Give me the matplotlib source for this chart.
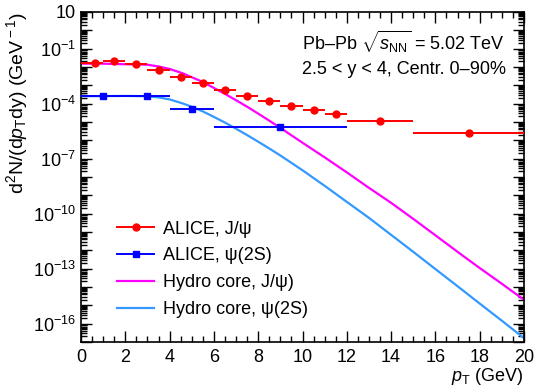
import numpy as np
import matplotlib
matplotlib.use("Agg")
import matplotlib.pyplot as plt
from matplotlib.lines import Line2D
from matplotlib.ticker import LogLocator, FixedLocator, MultipleLocator, NullFormatter

plt.rcParams['font.family'] = ['Liberation Sans', 'DejaVu Sans']
plt.rcParams['mathtext.fontset'] = 'custom'
plt.rcParams['mathtext.rm'] = 'Liberation Sans'
plt.rcParams['mathtext.it'] = 'Liberation Sans:italic'
plt.rcParams['mathtext.bf'] = 'Liberation Sans:bold'

# ALICE J/psi (red points), x-bins
jpsi_pt = [0.65, 1.5, 2.5, 3.5, 4.5, 5.5, 6.5, 7.5, 8.5, 9.5, 10.5, 11.5, 13.5, 17.5]
jpsi_lo = [0, 1, 2, 3, 4, 5, 6, 7, 8, 9, 10, 11, 12, 15]
jpsi_hi = [1, 2, 3, 4, 5, 6, 7, 8, 9, 10, 11, 12, 15, 20]
jpsi_val = [1.6e-2, 2.2e-2, 1.5e-2, 7.2e-3, 2.9e-3, 1.3e-3, 5.6e-4, 2.7e-4,
            1.4e-4, 7.5e-5, 4.4e-5, 2.7e-5, 1.2e-5, 2.6e-6]

# ALICE psi(2S) (blue squares)
psi_pt = [1, 3, 5, 9]
psi_lo = [0, 2, 4, 6]
psi_hi = [2, 4, 6, 12]
psi_val = [2.6e-4, 2.5e-4, 5.0e-5, 5.6e-6]

# hydro core curves
hyd_pt = [0, 1, 2, 2.5, 3, 3.5, 4, 4.6, 5, 5.5, 6, 6.5, 7, 7.5, 8, 8.5, 9, 9.5,
          10, 11, 12, 13, 14, 15, 16, 17, 18, 19, 20]
hyd_jpsi = [1.52e-2, 1.52e-2, 1.41e-2, 1.38e-2, 1.33e-2, 1.07e-2, 7.8e-3, 4.5e-3,
            2.76e-3, 1.53e-3, 7.2e-4, 3.4e-4, 1.54e-4, 6.8e-5, 2.87e-5, 1.18e-5,
            4.8e-6, 1.88e-6, 7.4e-7, 1.18e-7, 1.79e-8, 2.56e-9, 3.9e-10, 5.2e-11,
            6.6e-12, 8.3e-13, 1.08e-13, 1.50e-14, 2.0e-15]
hyd_psi = [2.55e-4, 2.58e-4, 2.64e-4, 2.6e-4, 2.55e-4, 2.19e-4, 1.71e-4, 1.02e-4,
           6.8e-5, 3.78e-5, 1.90e-5, 9.3e-6, 4.3e-6, 1.93e-6, 8.4e-7, 3.6e-7,
           1.49e-7, 5.9e-8, 2.33e-8, 3.3e-9, 4.4e-10, 5.9e-11, 7.0e-12, 8.3e-13,
           9.5e-14, 1.10e-14, 1.25e-15, 1.45e-16, 1.61e-17]

RED = '#ff0000'
BLUE = '#0000ff'
MAG = '#ff00ff'
LBLUE = '#3399ff'

fig = plt.figure(figsize=(5.37, 3.92), dpi=100)
ax = fig.add_axes([81/537, 1 - 342/392, (524-81)/537, (342-12)/392])

ax.plot(hyd_pt, hyd_jpsi, color=MAG, lw=1.6, zorder=2)
ax.plot(hyd_pt, hyd_psi, color=LBLUE, lw=1.6, zorder=2)

jx = np.array(jpsi_pt)
ax.errorbar(jx, jpsi_val, xerr=[jx - np.array(jpsi_lo), np.array(jpsi_hi) - jx],
            fmt='o', color=RED, ms=5, lw=1.4, capsize=0, zorder=3)
px = np.array(psi_pt)
ax.errorbar(px, psi_val, xerr=[px - np.array(psi_lo), np.array(psi_hi) - px],
            fmt='s', color=BLUE, ms=5, lw=1.4, capsize=0, zorder=3)

ax.set_yscale('log')
ax.set_xlim(0, 20)
ax.set_ylim(1e-17, 10)

ax.xaxis.set_major_locator(MultipleLocator(2))
ax.xaxis.set_minor_locator(MultipleLocator(0.5))
ax.yaxis.set_major_locator(FixedLocator([10.0**k for k in range(-17, 2)]))
ax.yaxis.set_minor_locator(LogLocator(base=10, subs=np.arange(2, 10), numticks=40))
ax.yaxis.set_minor_formatter(NullFormatter())

ylab_exp = [1, -1, -4, -7, -10, -13, -16]
def yfmt(v, pos):
    k = int(round(np.log10(v)))
    if k not in ylab_exp:
        return ''
    if k == 1:
        return '10'
    return r'$10^{\mathregular{%d}}$' % k
ax.yaxis.set_major_formatter(plt.FuncFormatter(yfmt))

ax.tick_params(which='both', direction='in', top=True, right=True,
               labelsize=13, width=1)
ax.tick_params(which='major', length=8)
ax.tick_params(which='minor', length=4)
ax.tick_params(axis='x', pad=5)
for s in ax.spines.values():
    s.set_linewidth(1.2)

ax.set_xlabel(r'$p_{\rm T}$ (GeV)', fontsize=13, loc='right', labelpad=0)
ax.set_ylabel(r'd$^{\rm 2}$N/(d$p_{\rm T}$dy) (GeV$^{\rm -1}$)', fontsize=14,
              loc='top', labelpad=2)

ax.text(0.499, 0.91, r'Pb–Pb $\sqrt{s_{\rm NN}}$ = 5.02 TeV', transform=ax.transAxes,
        fontsize=13, ha='left', va='center')
ax.text(0.499, 0.826, '2.5 < y < 4, Centr. 0–90%', transform=ax.transAxes,
        fontsize=13, ha='left', va='center')

handles = [
    Line2D([], [], color=RED, marker='o', ms=5, lw=1.4),
    Line2D([], [], color=BLUE, marker='s', ms=5, lw=1.4),
    Line2D([], [], color=MAG, lw=1.6),
    Line2D([], [], color=LBLUE, lw=1.6),
]
labels = ['ALICE, J/ψ', 'ALICE, ψ(2S)', 'Hydro core, J/ψ)', 'Hydro core, ψ(2S)']
ax.legend(handles, labels, loc='upper left', bbox_to_anchor=(0.065, 0.39),
          frameon=False, fontsize=13, handlelength=2.05, handletextpad=0.5,
          labelspacing=0.55, borderaxespad=0)

fig.savefig('out.png', dpi=100)
